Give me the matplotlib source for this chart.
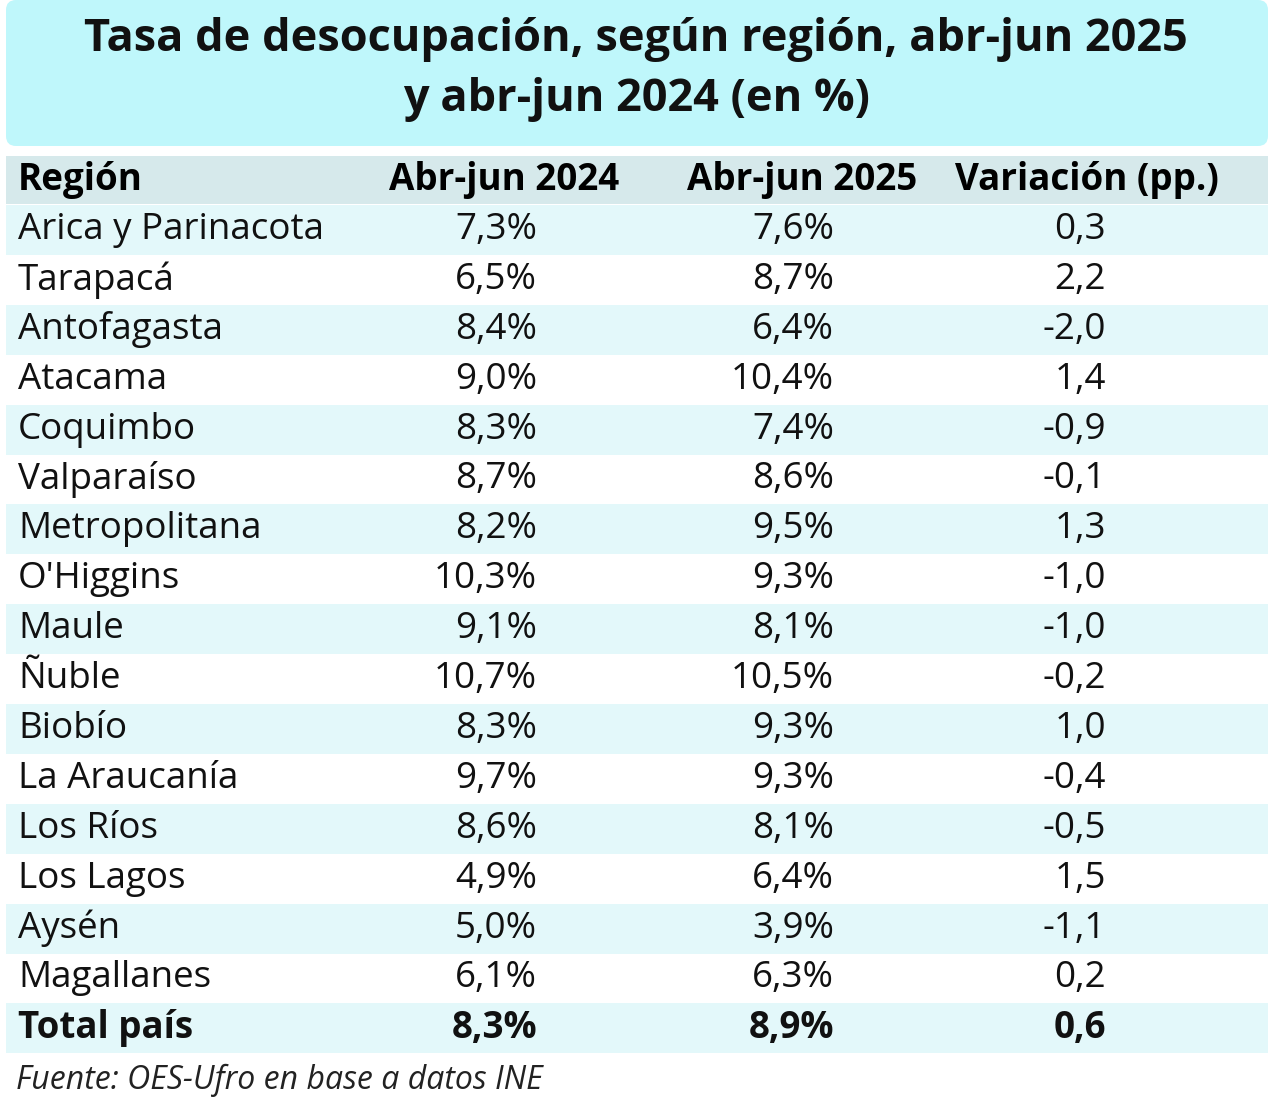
import matplotlib
matplotlib.use("Agg")
import matplotlib.pyplot as plt
from matplotlib.patches import Rectangle, FancyBboxPatch

regiones = ["Arica y Parinacota", "Tarapacá", "Antofagasta", "Atacama", "Coquimbo",
            "Valparaíso", "Metropolitana", "O'Higgins", "Maule", "Ñuble", "Biobío",
            "La Araucanía", "Los Ríos", "Los Lagos", "Aysén", "Magallanes", "Total país"]
tasa_2024 = ["7,3%", "6,5%", "8,4%", "9,0%", "8,3%", "8,7%", "8,2%", "10,3%", "9,1%",
             "10,7%", "8,3%", "9,7%", "8,6%", "4,9%", "5,0%", "6,1%", "8,3%"]
tasa_2025 = ["7,6%", "8,7%", "6,4%", "10,4%", "7,4%", "8,6%", "9,5%", "9,3%", "8,1%",
             "10,5%", "9,3%", "9,3%", "8,1%", "6,4%", "3,9%", "6,3%", "8,9%"]
variacion = ["0,3", "2,2", "-2,0", "1,4", "-0,9", "-0,1", "1,3", "-1,0", "-1,0",
             "-0,2", "1,0", "-0,4", "-0,5", "1,5", "-1,1", "0,2", "0,6"]
encabezados = ["Región", "Abr-jun 2024", "Abr-jun 2025", "Variación (pp.)"]

plt.rcParams['font.family'] = ['Open Sans', 'DejaVu Sans']
fig = plt.figure(figsize=(12.7, 11.02), dpi=100)
ax = fig.add_axes([0, 0, 1, 1])
ax.set_xlim(0, 1270)
ax.set_ylim(1102, 0)
ax.axis("off")

# title box
ax.add_patch(FancyBboxPatch((6, 0), 1262, 146, boxstyle="round,pad=0,rounding_size=10",
                            fc="#bff7fb", ec="none"))
ax.text(636, 40, "Tasa de desocupación, según región, abr-jun 2025", ha="center", va="center",
        fontsize=32.5, fontweight="bold", color="#111111")
ax.text(636, 100, "y abr-jun 2024 (en %)", ha="center", va="center",
        fontsize=32.5, fontweight="bold", color="#111111")

# header
fs = 26.5
ax.add_patch(Rectangle((6, 156), 1262, 48, fc="#d6e9eb", ec="none"))
ax.text(18, 180, encabezados[0], ha="left", va="center", fontsize=fs, fontweight="bold")
ax.text(504, 180, encabezados[1], ha="center", va="center", fontsize=fs, fontweight="bold")
ax.text(802, 180, encabezados[2], ha="center", va="center", fontsize=fs, fontweight="bold")
ax.text(1087, 180, encabezados[3], ha="center", va="center", fontsize=fs, fontweight="bold")

row_h = 49.9
y0 = 205
for i, reg in enumerate(regiones):
    top = y0 + i * row_h
    if i % 2 == 0:
        ax.add_patch(Rectangle((6, top), 1262, row_h, fc="#e3f8fa", ec="none"))
    yc = top + row_h / 2
    w = "bold" if reg == "Total país" else "normal"
    ax.text(18, yc, reg, ha="left", va="center", fontsize=fs, fontweight=w, color="#111111")
    ax.text(537, yc, tasa_2024[i], ha="right", va="center", fontsize=fs, fontweight=w, color="#111111")
    ax.text(834, yc, tasa_2025[i], ha="right", va="center", fontsize=fs, fontweight=w, color="#111111")
    ax.text(1106, yc, variacion[i], ha="right", va="center", fontsize=fs, fontweight=w, color="#111111")

ax.text(16, 1080, "Fuente: OES-Ufro en base a datos INE", ha="left", va="center",
        fontsize=23, style="italic", color="#222222")

fig.savefig("out.png", dpi=100)
